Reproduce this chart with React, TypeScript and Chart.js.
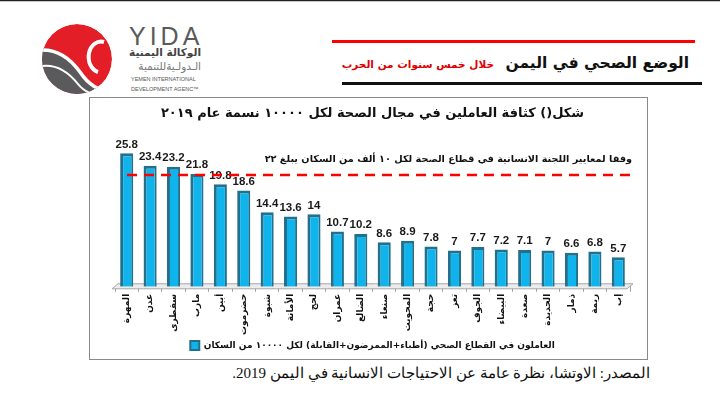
import React, { useEffect, useRef } from 'react';
import { Chart, registerables } from 'chart.js';
Chart.register(...registerables);

const categories = ['المهرة', 'عدن', 'سقطرى', 'مارب', 'أبين', 'حضرموت', 'شبوة', 'الأمانة', 'لحج', 'عمران', 'الضالع', 'صنعاء', 'المحويت', 'حجة', 'تعز', 'الجوف', 'البيضاء', 'صعدة', 'الحديدة', 'ذمار', 'ريمة', 'إب'];
const values = [25.8, 23.4, 23.2, 21.8, 19.8, 18.6, 14.4, 13.6, 14, 10.7, 10.2, 8.6, 8.9, 7.8, 7, 7.7, 7.2, 7.1, 7, 6.6, 6.8, 5.7];
const seriesLabel = 'العاملون في القطاع الصحي (أطباء+الممرضون+القابلة) لكل ١٠٠٠٠ من السكان';
const standardValue = 22;
const standardText = 'وفقا لمعايير اللجنة الانسانية في قطاع الصحة لكل ١٠ ألف من السكان يبلغ ٢٢';
const chartTitle = 'شكل() كثافة العاملين في مجال الصحة لكل ١٠٠٠٠ نسمة عام ٢٠١٩';
const yMax = 30;

const ARABIC = '"DejaVu Sans", "Noto Sans", sans-serif';

const floorPlugin = {
  id: 'floor',
  beforeDatasetsDraw(chart: any) {
    const { ctx, chartArea } = chart;
    const l = chartArea.left, r = chartArea.right, b = chartArea.bottom;
    ctx.save();
    ctx.beginPath();
    ctx.moveTo(l - 3, b + 2);
    ctx.lineTo(r - 3, b + 2);
    ctx.lineTo(r + 3, b - 3);
    ctx.lineTo(l + 3, b - 3);
    ctx.closePath();
    ctx.fillStyle = '#ECECEC';
    ctx.fill();
    ctx.strokeStyle = '#A8A8A8';
    ctx.lineWidth = 1;
    ctx.stroke();
    ctx.restore();
  },
};

const overlayPlugin = {
  id: 'overlay',
  afterDatasetsDraw(chart: any) {
    const { ctx, chartArea } = chart;
    const yScale = chart.scales.y;
    const meta = chart.getDatasetMeta(0);
    ctx.save();
    ctx.fillStyle = '#1a1a1a';
    ctx.font = 'bold 11.5px "Liberation Sans", Arial, sans-serif';
    ctx.textAlign = 'center';
    ctx.textBaseline = 'bottom';
    meta.data.forEach((bar: any, i: number) => {
      ctx.fillText(String(values[i]), bar.x, bar.y - 3);
    });
    const yy = yScale.getPixelForValue(standardValue) + 2;
    ctx.strokeStyle = '#FF0000';
    ctx.lineWidth = 2.5;
    ctx.setLineDash([10, 7]);
    ctx.beginPath();
    ctx.moveTo(chartArea.left + 12, yy);
    ctx.lineTo(chartArea.right + 7, yy);
    ctx.stroke();
    ctx.setLineDash([]);
    ctx.fillStyle = '#111';
    ctx.font = 'bold 9.7px ' + ARABIC;
    ctx.textAlign = 'right';
    ctx.textBaseline = 'middle';
    ctx.fillText(standardText, chartArea.right + 2, yScale.getPixelForValue(24.6));
    ctx.restore();
  },
};

function BarChart() {
  const ref = useRef<HTMLCanvasElement>(null);
  useEffect(() => {
    const chart = new Chart(ref.current!, {
      type: 'bar',
      data: {
        labels: categories,
        datasets: [
          {
            label: seriesLabel,
            data: values,
            backgroundColor: '#10B4EC',
            borderColor: '#22708C',
            borderWidth: { top: 3, left: 3, right: 2, bottom: 0 } as any,
            borderSkipped: false,
            barPercentage: 0.56,
            categoryPercentage: 1,
          },
        ],
      },
      options: {
        animation: false,
        responsive: false,
        layout: { padding: { left: 25, right: 18, top: 0, bottom: 0 } },
        plugins: {
          title: {
            display: true,
            text: chartTitle,
            color: '#111',
            font: { family: ARABIC, size: 13, weight: 'bold' },
            padding: { top: 8, bottom: 10 },
          },
          legend: {
            display: true,
            position: 'bottom',
            labels: {
              color: '#111',
              font: { family: ARABIC, size: 9, weight: 'bold' },
              boxWidth: 9,
              boxHeight: 9,
              padding: 5,
            },
          },
          tooltip: { enabled: false },
        },
        scales: {
          x: {
            afterFit: (axis: any) => {
              axis.height = axis.height - 1;
            },
            grid: { display: true, drawOnChartArea: false, drawTicks: true, tickLength: 5, color: '#A0A0A0' },
            border: { display: true, color: '#A0A0A0' },
            ticks: {
              color: '#111',
              font: { family: ARABIC, size: 9, weight: 'bold' },
              maxRotation: 90,
              minRotation: 90,
              autoSkip: false,
              padding: 2,
            },
          },
          y: {
            display: false,
            min: 0,
            max: yMax,
          },
        },
      },
      plugins: [floorPlugin, overlayPlugin],
    });
    return () => chart.destroy();
  }, []);
  return <canvas ref={ref} width={558} height={262} style={{ display: 'block', width: 558, height: 262 }} />;
}

function Decor() {
  return (
    <svg width={720} height={393} style={{ position: 'absolute', left: 0, top: 0 }}>
      <defs>
        <clipPath id="logoClip">
          <circle cx={77} cy={59} r={35} />
        </clipPath>
      </defs>
      <g clipPath="url(#logoClip)">
        <circle cx={77} cy={59} r={35} fill="#E31E26" />
        <path d="M38 48 C 55 46, 70 56, 80 70 C 88 82, 96 90, 112 92 L 112 100 L 38 100 Z" fill="#5A5A5C" />
        <path d="M40 50 C 56 49, 70 58, 80 72 C 88 84, 98 92, 114 92" stroke="#fff" strokeWidth={3.5} fill="none" />
        <path d="M42 66 C 58 64, 70 74, 78 84 C 84 92, 94 96, 108 96" stroke="#fff" strokeWidth={2} fill="none" />
        <path d="M104 42 A 12 15 0 0 0 98 72" stroke="#fff" strokeWidth={4} fill="none" />
      </g>
      <line x1={0} y1={0.5} x2={720} y2={0.5} stroke="#222" strokeWidth={1.5} />
      <line x1={332} y1={41.5} x2={695} y2={41.5} stroke="#FF0000" strokeWidth={3} />
      <line x1={342} y1={83.5} x2={702} y2={83.5} stroke="#111" strokeWidth={3} />
    </svg>
  );
}

export default function App() {
  return (
    <div style={{ position: 'fixed', left: 0, top: 0, width: 720, height: 393, background: '#fff', overflow: 'hidden' }}>
      <Decor />
      <div style={{ position: 'absolute', left: 129, top: 22, fontFamily: '"Liberation Sans", Arial, sans-serif', fontSize: 25, letterSpacing: 4, color: '#5a5a5a', lineHeight: '28px' }}>YIDA</div>
      <div dir="rtl" style={{ position: 'absolute', right: 720 - 201, top: 45, fontFamily: ARABIC, fontWeight: 'bold', fontSize: 10.5, color: '#444', lineHeight: '14px', whiteSpace: 'nowrap' }}>الوكالة اليمنية</div>
      <div dir="rtl" style={{ position: 'absolute', right: 720 - 201, top: 59, fontFamily: ARABIC, fontSize: 10.5, color: '#777', lineHeight: '14px', whiteSpace: 'nowrap' }}>الـدولـيةللتنمية</div>
      <div style={{ position: 'absolute', left: 131, top: 75, fontFamily: '"Liberation Sans", Arial, sans-serif', fontSize: 5.5, color: '#555', lineHeight: '8px', whiteSpace: 'nowrap' }}>YEMEN INTERNATIONAL</div>
      <div style={{ position: 'absolute', left: 131, top: 85, fontFamily: '"Liberation Sans", Arial, sans-serif', fontSize: 5.5, color: '#555', lineHeight: '8px', whiteSpace: 'nowrap' }}>DEVELOPMENT AGENC™</div>
      <div dir="rtl" style={{ position: 'absolute', right: 720 - 689, top: 52, fontFamily: ARABIC, fontWeight: 'bold', fontSize: 15.5, color: '#111', lineHeight: '22px', whiteSpace: 'nowrap' }}>الوضع الصحي في اليمن</div>
      <div dir="rtl" style={{ position: 'absolute', right: 720 - 494, top: 57, fontFamily: ARABIC, fontWeight: 'bold', fontSize: 10.5, color: '#E00000', lineHeight: '14px', whiteSpace: 'nowrap' }}>خلال خمس سنوات من الحرب</div>
      <div style={{ position: 'absolute', left: 89, top: 97, width: 559, height: 263, border: '1px solid #8a8a8a', boxSizing: 'border-box' }} />
      <div style={{ position: 'absolute', left: 90, top: 98 }}>
        <BarChart />
      </div>
      <div dir="rtl" style={{ position: 'absolute', right: 720 - 650, top: 364, fontFamily: '"Liberation Serif", "DejaVu Serif", serif', fontSize: 15, color: '#111', lineHeight: '18px', whiteSpace: 'nowrap' }}>المصدر: الاوتشا، نظرة عامة عن الاحتياجات الانسانية في اليمن 2019.</div>
    </div>
  );
}
